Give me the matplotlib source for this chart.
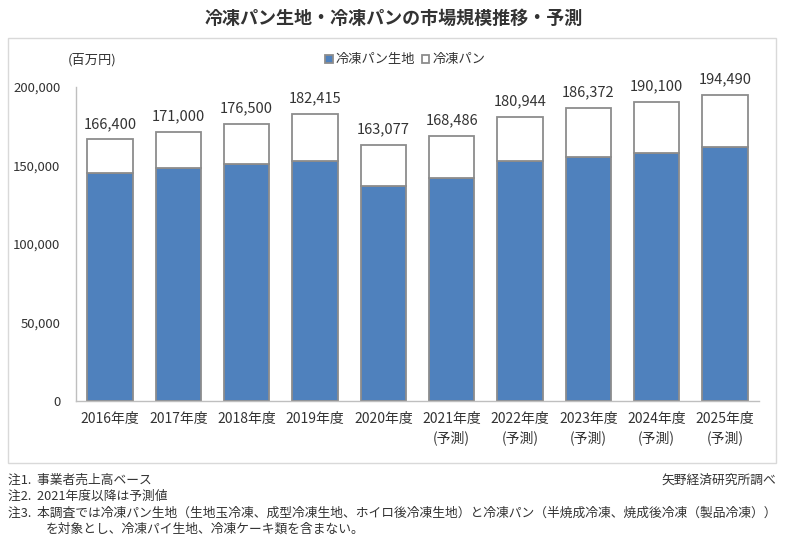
import matplotlib
matplotlib.use("Agg")
import matplotlib.pyplot as plt
from matplotlib.patches import Rectangle

plt.rcParams['font.family'] = ['Noto Sans CJK JP', 'DejaVu Sans']

years = ["2016年度", "2017年度", "2018年度", "2019年度", "2020年度",
         "2021年度", "2022年度", "2023年度", "2024年度", "2025年度"]
forecast = [False, False, False, False, False, True, True, True, True, True]
totals = [166400, 171000, 176500, 182415, 163077, 168486, 180944, 186372, 190100, 194490]
dough = [145000, 148200, 151000, 152900, 137000, 142000, 152500, 155000, 157800, 161600]
bread = [t - d for t, d in zip(totals, dough)]
yticks = [0, 50000, 100000, 150000, 200000]

W, H = 786, 553
fig = plt.figure(figsize=(W / 100, H / 100), dpi=100)

# outer chart box
fig.patches.append(Rectangle((8 / W, 1 - 463 / H), 768 / W, 425 / H,
                             transform=fig.transFigure, fill=False,
                             edgecolor='#d9d9d9', linewidth=1.0))

ax = fig.add_axes([75.8 / W, 1 - 400.7 / H, (759.2 - 75.8) / W, 314 / H])
x = list(range(len(years)))
ec = '#8c8c8c'
ax.bar(x, dough, width=0.66, color='#4F81BD', edgecolor=ec, linewidth=1.3, label='冷凍パン生地')
ax.bar(x, bread, width=0.66, bottom=dough, color='white', edgecolor=ec, linewidth=1.3, label='冷凍パン')

for xi, t in zip(x, totals):
    ax.text(xi, t + 5500, f"{t:,}", ha='center', va='bottom', fontsize=10.5,
            color='#333333', clip_on=False)

ax.set_xlim(-0.5, len(years) - 0.5)
ax.set_ylim(0, 200000)
ax.set_yticks(yticks)
ax.set_yticklabels([f"{v:,}" for v in yticks], fontsize=9.5, color='#333333')
ax.set_xticks(x)
ax.set_xticklabels([y + ("\n(予測)" if f else "") for y, f in zip(years, forecast)],
                   fontsize=10, color='#333333', linespacing=1.35, va='top')
ax.tick_params(axis='both', length=0)
ax.tick_params(axis='y', pad=11)
ax.tick_params(axis='x', pad=8)
for s in ['top', 'right']:
    ax.spines[s].set_visible(False)
for s in ['left', 'bottom']:
    ax.spines[s].set_color('#bfbfbf')
    ax.spines[s].set_linewidth(1.0)

leg = ax.legend(loc='center', bbox_to_anchor=(405 / W, 1 - 60 / H), bbox_transform=fig.transFigure,
                ncol=2, frameon=False, fontsize=9.5, handlelength=0.6, handleheight=0.6,
                handletextpad=0.2, columnspacing=0.5, labelcolor='#333333')

fig.text(394 / W, 1 - 18 / H, "冷凍パン生地・冷凍パンの市場規模推移・予測", ha='center', va='center',
         fontsize=13, fontweight='bold', color='#333333')
fig.text(92 / W, 1 - 60 / H, "(百万円)", ha='center', va='center', fontsize=9.5, color='#333333')

notes = ["注1.  事業者売上高ベース",
         "注2.  2021年度以降は予測値",
         "注3.  本調査では冷凍パン生地（生地玉冷凍、成型冷凍生地、ホイロ後冷凍生地）と冷凍パン（半焼成冷凍、焼成後冷凍（製品冷凍））"]
for i, n in enumerate(notes):
    fig.text(8 / W, 1 - (480 + i * 16.5) / H, n, ha='left', va='center', fontsize=9.2, color='#333333')
fig.text(46 / W, 1 - (480 + 3 * 16.5) / H, "を対象とし、冷凍パイ生地、冷凍ケーキ類を含まない。",
         ha='left', va='center', fontsize=9.2, color='#333333')
fig.text(776 / W, 1 - 480 / H, "矢野経済研究所調べ", ha='right', va='center', fontsize=9.2, color='#333333')

fig.savefig("out.png", dpi=100)
